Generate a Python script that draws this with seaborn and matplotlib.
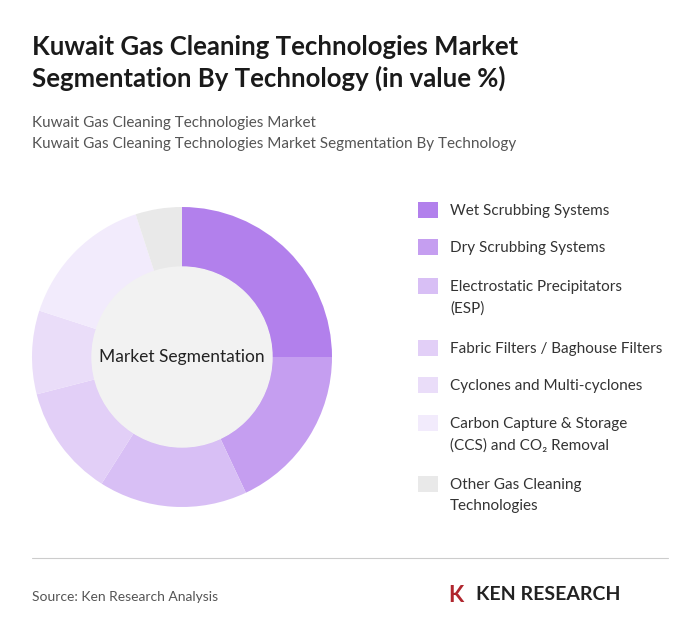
import matplotlib
matplotlib.use('Agg')
import matplotlib.pyplot as plt
import seaborn as sns

sns.set_theme(style='white')
plt.rcParams['font.family'] = ['Lato', 'DejaVu Sans']

# data
labels = ['Wet Scrubbing Systems', 'Dry Scrubbing Systems', 'Electrostatic Precipitators\n(ESP)',
          'Fabric Filters / Baghouse Filters', 'Cyclones and Multi-cyclones',
          'Carbon Capture & Storage\n(CCS) and CO₂ Removal', 'Other Gas Cleaning\nTechnologies']
values = [25, 18, 16, 12, 9, 15, 5]
colors = ['#B280EC', '#C59EF0', '#D8BFF5', '#E2CFF7', '#EADDF9', '#F2EBFC', '#E9E9E9']

W, H = 700, 643
fig = plt.figure(figsize=(7, 6.43), dpi=100)
fig.patch.set_facecolor('white')

fig.text(0.046, 0.945, 'Kuwait Gas Cleaning Technologies Market\nSegmentation By Technology (in value %)',
         fontsize=18.5, fontweight='bold', color='#1a1a1a', va='top', linespacing=1.3)
fig.text(0.046, 1 - 123 / H, 'Kuwait Gas Cleaning Technologies Market', fontsize=11, color='#555555', va='center')
fig.text(0.046, 1 - 144 / H, 'Kuwait Gas Cleaning Technologies Market Segmentation By Technology',
         fontsize=11, color='#555555', va='center')

ax = fig.add_axes([(182 - 153) / W, (286 - 153) / H, 306 / W, 306 / H])
ax.pie(values, colors=colors, startangle=90, counterclock=False,
       wedgeprops=dict(width=0.4, edgecolor='white', linewidth=0))
ax.add_patch(plt.Circle((0, 0), 0.6, color='#F2F2F2', zorder=3))
ax.text(0, 0, 'Market Segmentation', ha='center', va='center', fontsize=12.5, color='#222222', zorder=4)
ax.set_xlim(-1.02, 1.02)
ax.set_ylim(-1.02, 1.02)
ax.set_aspect('equal')

line_y = [210, 247, 286, 348, 385, 423, 484]
for lab, c, yp in zip(labels, colors, line_y):
    y = 1 - yp / H
    fig.patches.append(plt.Rectangle((418 / W, y - 8 / H), 20 / W, 16 / H, transform=fig.transFigure,
                                     facecolor=c, edgecolor='none'))
    fig.text(450 / W, y + 6 / H, lab, fontsize=11, color='#333333', va='top', linespacing=1.65)

fig.add_artist(plt.Line2D([0.046, 0.954], [1 - 558 / H, 1 - 558 / H], color='#cccccc', linewidth=0.8))
fig.text(0.046, 1 - 597 / H, 'Source: Ken Research Analysis', fontsize=10, color='#555555', va='center')
fig.text(476 / W, 1 - 595 / H, 'KEN RESEARCH', fontsize=14, fontweight='bold', color='#222222', va='center')
fig.text(448 / W, 1 - 595 / H, 'K', fontsize=16, fontweight='bold', color='#B0262E', va='center')

fig.savefig('out.png', dpi=100)
